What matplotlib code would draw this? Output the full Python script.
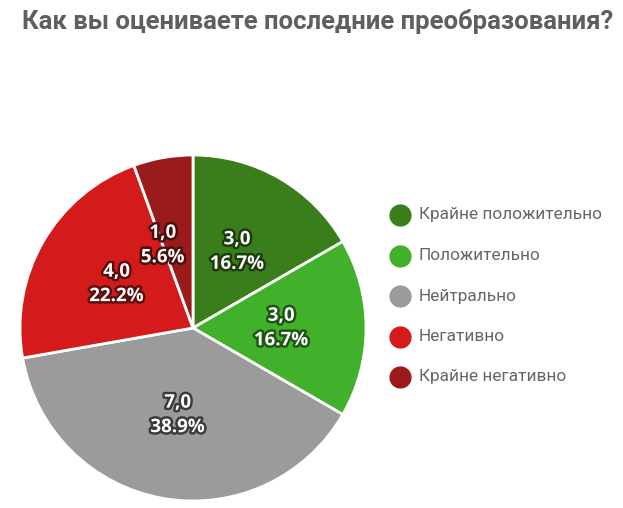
import numpy as np
import matplotlib.pyplot as plt
import matplotlib.patheffects as pe

plt.rcParams['font.family'] = ['Roboto', 'DejaVu Sans']

# данные
categories = ['Крайне положительно', 'Положительно', 'Нейтрально', 'Негативно', 'Крайне негативно']
values = [3, 3, 7, 4, 1]
colors = ['#3a7d1b', '#41b02a', '#9b9b9b', '#d41b1b', '#9b1b1d']
edge_dark = ['#1b3d0c', '#1d5512', '#3a3a3a', '#5e0c0c', '#4a0c0c']

fig = plt.figure(figsize=(6.23, 5.08), dpi=100)
ax = fig.add_axes([0.0, 0.0, 1.0, 1.0])
ax.set_xlim(0, 623)
ax.set_ylim(508, 0)
ax.axis('off')

# пирог в своей оси
R = 173
pax = fig.add_axes([(193 - R) / 623, (508 - 328 - R) / 508, 2 * R / 623, 2 * R / 508])
total = sum(values)
wedges, texts = pax.pie(values, colors=colors, startangle=90, counterclock=False,
                        wedgeprops=dict(edgecolor='white', linewidth=2))
pax.set_xlim(-1, 1)
pax.set_ylim(-1, 1)
pax.set_aspect('equal')

for w, v, dk in zip(wedges, values, edge_dark):
    mid = (w.theta1 + w.theta2) / 2
    if v / total < 0.1:
        mid += 10  # маленький сектор - подпись чуть сдвинута
    ang = np.deg2rad(mid)
    r = 0.51
    t = pax.text(r * np.cos(ang), r * np.sin(ang),
                 '%d,0\n%.1f%%' % (v, v / total * 100),
                 ha='center', va='center', color='white', fontsize=13.5,
                 fontweight='bold', linespacing=1.3, family=['Open Sans', 'DejaVu Sans'])
    t.set_path_effects([pe.withStroke(linewidth=3.5, foreground=dk)])

ax.text(22, 22, 'Как вы оцениваете последние преобразования?', fontsize=18.5,
        fontweight='bold', color='#5f5f5f', va='center', ha='left')

# легенда
for i, (c, col) in enumerate(zip(categories, colors)):
    y = 215 + i * 40.5
    ax.plot(400, y, 'o', markersize=15, color=col)
    ax.text(419, y, c, fontsize=12.4, color='#666666', va='center', ha='left')

fig.savefig('out.png', dpi=100)
